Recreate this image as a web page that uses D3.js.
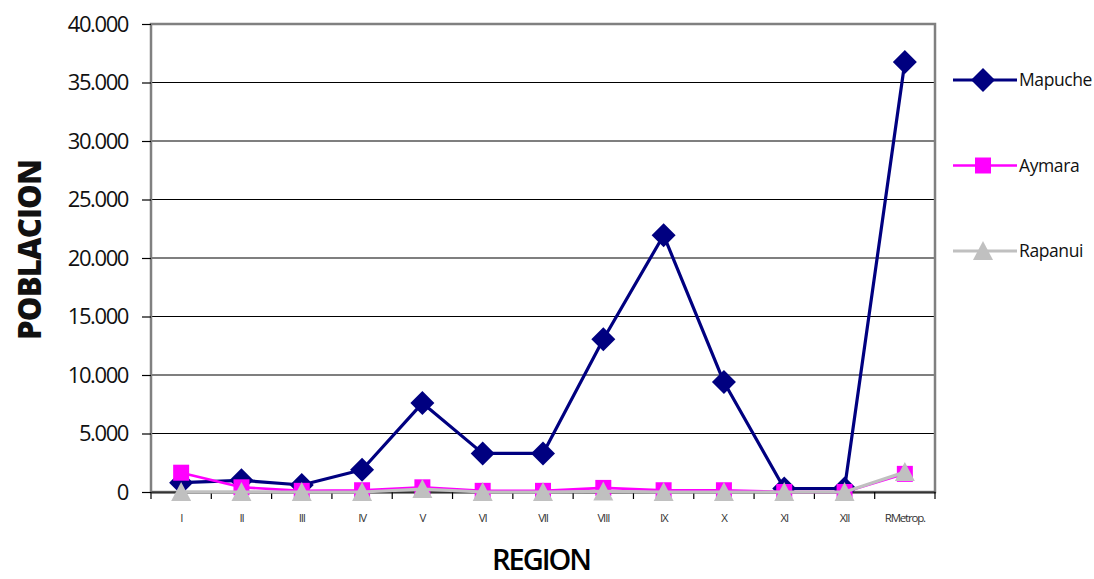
<!DOCTYPE html>
<html>
<head>
<meta charset="utf-8">
<script src="https://cdn.jsdelivr.net/npm/d3@7"></script>
<style>
  html, body { margin: 0; padding: 0; background: #fff; }
  svg { display: block; }
</style>
</head>
<body>
<svg id="chart" width="1094" height="579"></svg>
<script>
// Population by region for three indigenous peoples
const regions = ["I", "II", "III", "IV", "V", "VI", "VII", "VIII", "IX", "X", "XI", "XII", "RMetrop."];
const mapuche = [800, 1000, 600, 1900, 7600, 3300, 3300, 13050, 21950, 9400, 300, 300, 36750];
const aymara  = [1650, 400, 100, 150, 400, 100, 100, 350, 150, 150, 0, 0, 1550];
const rapanui = [0, 0, 0, 0, 250, 0, 0, 50, 0, 0, 0, 0, 1700];
const yTicks = [0, 5000, 10000, 15000, 20000, 25000, 30000, 35000, 40000];

const series = [
  { name: "Mapuche", values: mapuche, color: "#000080", width: 3.2, marker: "diamond" },
  { name: "Aymara",  values: aymara,  color: "#ff00ff", width: 2.6, marker: "square" },
  { name: "Rapanui", values: rapanui, color: "#c0c0c0", width: 3.2, marker: "triangle" }
];

const svg = d3.select("#chart");
const plotLeft = 151, plotRight = 935, plotTop = 24, plotBottom = 492;

const x = d3.scaleBand().domain(regions).range([plotLeft, plotRight]).padding(0);
const y = d3.scaleLinear().domain([0, 40000]).range([plotBottom, plotTop]);
const fmt = v => v === 0 ? "0" : d3.format(",")(v).replace(/,/g, ".");

// horizontal gridlines
svg.append("g")
  .selectAll("line")
  .data(yTicks.filter(t => t > 0 && t < 40000))
  .join("line")
  .attr("x1", plotLeft).attr("x2", plotRight)
  .attr("y1", d => y(d)).attr("y2", d => y(d))
  .attr("stroke", "#000").attr("stroke-width", 1.2);

// plot frame
svg.append("rect")
  .attr("x", plotLeft).attr("y", plotTop)
  .attr("width", plotRight - plotLeft).attr("height", plotBottom - plotTop)
  .attr("fill", "none").attr("stroke", "#808080").attr("stroke-width", 2.5);

// y axis
const yAxis = svg.append("g")
  .attr("transform", `translate(${plotLeft},0)`)
  .call(d3.axisLeft(y).tickValues(yTicks).tickFormat(fmt).tickSize(9).tickPadding(14));
yAxis.select(".domain").remove();
yAxis.selectAll(".tick line").attr("stroke", "#000").attr("stroke-width", 1.2);
yAxis.selectAll(".tick text")
  .attr("font-family", "'Open Sans', sans-serif")
  .attr("font-size", 22).attr("letter-spacing", -1.4).attr("fill", "#111");

// x axis with ticks at category boundaries
const xAxis = svg.append("g")
  .attr("transform", `translate(0,${plotBottom})`)
  .call(d3.axisBottom(x).tickSize(0).tickPadding(22));
xAxis.select(".domain").attr("stroke", "#333").attr("stroke-width", 2);
xAxis.selectAll(".tick text")
  .attr("font-family", "'Open Sans', sans-serif")
  .attr("font-size", 11.5).attr("letter-spacing", -1.2).attr("fill", "#333");
svg.append("g")
  .selectAll("line")
  .data(regions.map(r => x(r)).concat([plotRight]))
  .join("line")
  .attr("x1", d => d).attr("x2", d => d)
  .attr("y1", plotBottom).attr("y2", plotBottom + 7)
  .attr("stroke", "#000").attr("stroke-width", 1.2);

// marker shapes
function markerPath(type) {
  if (type === "diamond") return "M0,-12L12,0L0,12L-12,0Z";
  if (type === "square") return "M-8,-8H8V8H-8Z";
  return "M0,-10L10,9H-10Z";
}

const lineGen = d3.line()
  .x((d, i) => x(regions[i]) + x.bandwidth() / 2)
  .y(d => y(d));

series.forEach(s => {
  const g = svg.append("g");
  g.append("path")
    .datum(s.values)
    .attr("d", lineGen)
    .attr("fill", "none")
    .attr("stroke", s.color)
    .attr("stroke-width", s.width)
    .attr("stroke-linejoin", "round");
  g.selectAll("path.m")
    .data(s.values)
    .join("path")
    .attr("class", "m")
    .attr("d", markerPath(s.marker))
    .attr("transform", (d, i) => `translate(${x(regions[i]) + x.bandwidth() / 2},${y(d)})`)
    .attr("fill", s.color);
});

// legend
const legend = svg.append("g");
series.forEach((s, i) => {
  const ly = 80 + i * 85.5;
  legend.append("line")
    .attr("x1", 953).attr("x2", 1017).attr("y1", ly).attr("y2", ly)
    .attr("stroke", s.color).attr("stroke-width", s.width);
  legend.append("path")
    .attr("d", markerPath(s.marker))
    .attr("transform", `translate(983,${ly})`)
    .attr("fill", s.color);
  legend.append("text")
    .attr("x", 1019).attr("y", ly).attr("dy", "0.36em")
    .attr("font-family", "'Open Sans', sans-serif")
    .attr("font-size", 17.5).attr("letter-spacing", -0.4).attr("fill", "#111")
    .text(s.name);
});

// axis titles
svg.append("text")
  .attr("transform", `translate(41,250) rotate(-90)`)
  .attr("text-anchor", "middle")
  .attr("font-family", "'Open Sans', sans-serif")
  .attr("font-weight", 800).attr("font-size", 31).attr("letter-spacing", -0.8)
  .attr("fill", "#111")
  .text("POBLACION");

svg.append("text")
  .attr("x", 541).attr("y", 570)
  .attr("text-anchor", "middle")
  .attr("font-family", "'Open Sans', sans-serif")
  .attr("font-weight", 600).attr("font-size", 29).attr("letter-spacing", -2)
  .attr("fill", "#000")
  .text("REGION");
</script>
</body>
</html>
